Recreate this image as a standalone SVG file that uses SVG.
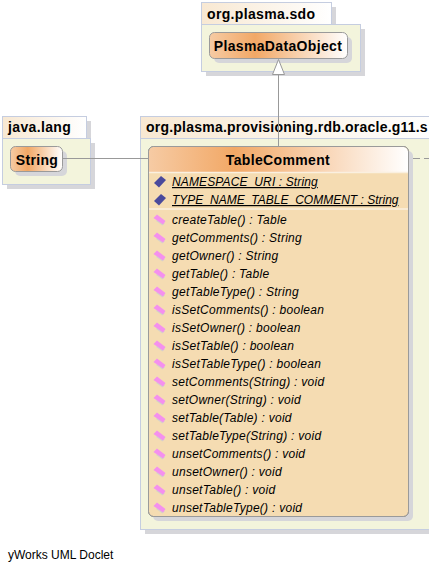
<svg xmlns="http://www.w3.org/2000/svg" width="429" height="572" viewBox="0 0 429 572">
<style>
text{font-family:"Liberation Sans",Arial,sans-serif;fill:#000}
.pk{font-weight:bold;font-size:14px;letter-spacing:.35px}
.cn{font-weight:bold;font-size:14px;letter-spacing:.35px;text-anchor:middle}
.m{font-style:italic;font-size:12px;letter-spacing:.27px}
.u{text-decoration:underline;letter-spacing:0}
.sh{fill:#d6d6da}
.tab{stroke:#c5cde0;stroke-width:1}
.body{fill:#f3f4dc;stroke:#c5cde0;stroke-width:1}
.box{stroke:#9a9a9a;stroke-width:1}
.ln{stroke:#999;stroke-width:1;fill:none}
</style>
<defs>
<linearGradient id="tg"><stop offset="0" stop-color="#f8e8d2"/><stop offset="1" stop-color="#fff"/></linearGradient>
<linearGradient id="og"><stop offset="0" stop-color="#f6cba4"/><stop offset=".33" stop-color="#f2a866"/><stop offset="1" stop-color="#fff"/></linearGradient>
<g id="mi"><path d="M0 2L2 0 9 4 6.500 6.500Z" fill="#d4d4c8"/><path d="M-2.500-1L1-4.500 9.500 2 7 5.500Z" fill="#f490ee"/></g>
<g id="fi"><path d="M-6 1L1-6 6-2-1 5.500Z" fill="#4a4a9c"/></g>
</defs>
<g id="pkg-sdo">
<rect class="sh" x="206" y="29" width="159" height="47"/><rect class="sh" x="206" y="7" width="130" height="22"/>
<rect class="tab" fill="url(#tg)" x="201.500" y="2.500" width="130" height="22"/>
<rect class="body" x="201.500" y="24.500" width="159" height="47"/>
<text class="pk" x="207" y="19">org.plasma.sdo</text>
<rect class="sh" x="214" y="37" width="138" height="26" rx="5"/>
<rect class="box" fill="url(#og)" x="209.500" y="32.500" width="138" height="26" rx="5"/>
<text class="cn" x="278" y="51">PlasmaDataObject</text>
</g>
<g id="pkg-lang">
<rect class="sh" x="7" y="143" width="88" height="46"/><rect class="sh" x="7" y="121" width="84" height="22"/>
<rect class="tab" fill="url(#tg)" x="2.500" y="116.500" width="84" height="22"/>
<rect class="body" x="2.500" y="138.500" width="88" height="46"/>
<text class="pk" x="8" y="132">java.lang</text>
<rect class="sh" x="15" y="151" width="52" height="25" rx="5"/>
<rect class="box" fill="url(#og)" x="10.500" y="146.500" width="52" height="25" rx="5"/>
<text class="cn" x="37" y="165">String</text>
</g>
<g id="pkg-g11">
<rect class="sh" x="145" y="150" width="284" height="384"/>
<rect class="tab" fill="url(#tg)" x="140.500" y="116.500" width="300" height="22"/>
<rect class="body" x="140.500" y="138.500" width="300" height="391"/>
<text class="pk" x="146" y="132" style="letter-spacing:.22px">org.plasma.provisioning.rdb.oracle.g11.s</text>
</g>
<g id="connectors">
<path class="ln" d="M278.500 146V74"/>
<path d="M278.500 59.500L272.500 74.500H284.500Z" fill="#fff" stroke="#999"/>
<path class="ln" d="M62.500 158.500H148"/>
<path class="ln" d="M409 158.500H429" stroke-dasharray="11 4"/>
</g>
<g id="node-TableComment">
<rect class="sh" x="153" y="151" width="260" height="370" rx="5"/>
<rect class="box" fill="#f5dcb2" x="148.500" y="146.500" width="260" height="370" rx="5"/>
<path fill="url(#og)" d="M149 172V152a5 5 0 0 1 5-5H403a5 5 0 0 1 5 5V172Z"/>
<rect x="148.500" y="146.500" width="260" height="370" rx="5" fill="none" stroke="#9a9a9a"/>
<path d="M149 172.500H408M149 209H408" stroke="#faf0e0" stroke-width="1.500"/>
<text class="cn" x="278" y="165">TableComment</text>
<use href="#fi" x="160" y="182"/><use href="#fi" x="160" y="200"/>
<text class="m u" x="172" y="186" style="letter-spacing:.12px">NAMESPACE_URI : String</text>
<text class="m u" x="172" y="204">TYPE_NAME_TABLE_COMMENT : String</text>
<g id="methods">
<use href="#mi" x="156" y="219"/><text class="m" x="172" y="224">createTable() : Table</text>
<use href="#mi" x="156" y="237"/><text class="m" x="172" y="242">getComments() : String</text>
<use href="#mi" x="156" y="255"/><text class="m" x="172" y="260">getOwner() : String</text>
<use href="#mi" x="156" y="273"/><text class="m" x="172" y="278">getTable() : Table</text>
<use href="#mi" x="156" y="291"/><text class="m" x="172" y="296">getTableType() : String</text>
<use href="#mi" x="156" y="309"/><text class="m" x="172" y="314">isSetComments() : boolean</text>
<use href="#mi" x="156" y="327"/><text class="m" x="172" y="332">isSetOwner() : boolean</text>
<use href="#mi" x="156" y="345"/><text class="m" x="172" y="350">isSetTable() : boolean</text>
<use href="#mi" x="156" y="363"/><text class="m" x="172" y="368">isSetTableType() : boolean</text>
<use href="#mi" x="156" y="381"/><text class="m" x="172" y="386">setComments(String) : void</text>
<use href="#mi" x="156" y="399"/><text class="m" x="172" y="404">setOwner(String) : void</text>
<use href="#mi" x="156" y="417"/><text class="m" x="172" y="422">setTable(Table) : void</text>
<use href="#mi" x="156" y="435"/><text class="m" x="172" y="440">setTableType(String) : void</text>
<use href="#mi" x="156" y="453"/><text class="m" x="172" y="458">unsetComments() : void</text>
<use href="#mi" x="156" y="471"/><text class="m" x="172" y="476">unsetOwner() : void</text>
<use href="#mi" x="156" y="489"/><text class="m" x="172" y="494">unsetTable() : void</text>
<use href="#mi" x="156" y="507"/><text class="m" x="172" y="512">unsetTableType() : void</text>
</g>
</g>
<text x="8" y="559" style="font-size:12px">yWorks UML Doclet</text>
</svg>
